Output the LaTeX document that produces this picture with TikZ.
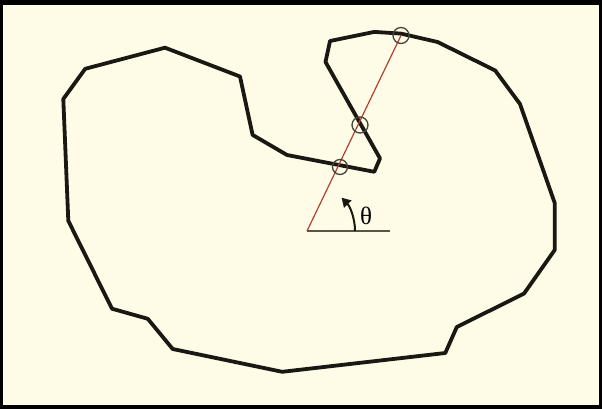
\documentclass[tikz,border=0pt]{standalone}
\usepackage{fontspec}
\setmainfont{Liberation Serif}
\usetikzlibrary{arrows.meta}
\definecolor{bgcream}{RGB}{254,252,230}
\definecolor{curvecol}{RGB}{26,24,18}
\definecolor{raycol}{RGB}{176,64,50}
\definecolor{axiscol}{RGB}{85,86,72}
\tikzset{
  curve/.style={draw=curvecol,line width=3.8pt,line join=round},
  ray/.style={draw=raycol,line width=1.2pt},
  axis/.style={draw=axiscol,line width=2.6pt},
  hit/.style={draw=axiscol!80!black,line width=1.3pt},
  anglearrow/.style={draw=curvecol,line width=2pt,-{Triangle[length=9pt,width=10pt]}}
}
\begin{document}
\begin{tikzpicture}[x=1pt,y=-1pt]
\fill[black] (0,0) rectangle (602,409);
\fill[bgcream] (3,5) rectangle (599,405);
\useasboundingbox (0,0) rectangle (602,409);
\draw[curve] (63.3,99) -- (85.2,68.8) -- (165,47.7) -- (240,76.5) -- (252.6,134.9)
  -- (287,155) -- (374.3,171.8) -- (380,158.4) -- (325.5,62) -- (330,41)
  -- (374.3,31.9) -- (401,33.6) -- (437.6,42) -- (495.2,70.5) -- (520,104)
  -- (554.7,203) -- (554.7,250) -- (524,293.6) -- (456.8,327) -- (445.3,353)
  -- (282.2,371.8) -- (172.7,349) -- (147.8,318.8) -- (112,308.7) -- (68.3,220.8)
  -- cycle;
\coordinate (O) at (307,231);
\coordinate (E) at (390,231);
\coordinate (P1) at (340,167);
\coordinate (P2) at (360,125);
\coordinate (P3) at (401,35.5);
\draw[axis] (O) -- (E);
\draw[ray] (O) -- (P3);
\draw[hit] (P1) circle[radius=7.5];
\draw[hit] (P2) circle[radius=8];
\draw[hit] (P3) circle[radius=8];
\draw[anglearrow] (355,231) arc[start angle=0,end angle=-44,radius=48];
\node[font=\fontsize{25}{25}\selectfont] (theta) at (366,215.5) {θ};
\end{tikzpicture}
\end{document}
